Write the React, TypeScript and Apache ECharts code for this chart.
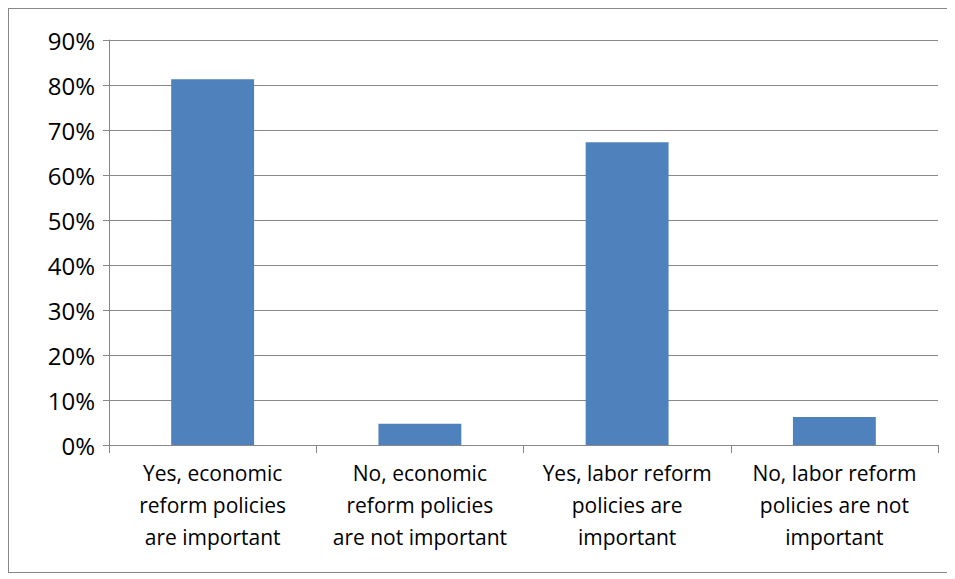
import React, { useEffect, useRef } from 'react';
import * as echarts from 'echarts';

const categories = [
  'Yes, economic\nreform policies\nare important',
  'No, economic\nreform policies\nare not important',
  'Yes, labor reform\npolicies are\nimportant',
  'No, labor reform\npolicies are not\nimportant',
];
const values = [81.3, 4.7, 67.3, 6.2];

export default function App() {
  const ref = useRef<HTMLDivElement>(null);

  useEffect(() => {
    if (!ref.current) return;
    const chart = echarts.init(ref.current, null, { renderer: 'svg' });
    chart.setOption({
      animation: false,
      textStyle: { fontFamily: '"Open Sans", sans-serif' },
      grid: { left: 100, right: 10, top: 31, bottom: 127 },
      xAxis: {
        type: 'category',
        data: categories,
        axisLine: { lineStyle: { color: '#878787' } },
        axisTick: { show: true, length: 8, lineStyle: { color: '#878787' } },
        axisLabel: { color: '#000', fontSize: 21, lineHeight: 32, margin: 12, interval: 0 },
      },
      yAxis: {
        type: 'value',
        min: 0,
        max: 90,
        interval: 10,
        axisLine: { show: true, lineStyle: { color: '#878787' } },
        axisTick: { show: true, length: 6, lineStyle: { color: '#878787' } },
        axisLabel: { color: '#000', fontSize: 24, margin: 14, formatter: '{value}%' },
        splitLine: { lineStyle: { color: '#878787' } },
      },
      series: [
        {
          type: 'bar',
          data: values,
          barWidth: '40%',
          itemStyle: { color: '#4f81bd' },
        },
      ],
    });
    return () => chart.dispose();
  }, []);

  return (
    <div style={{ width: 939, height: 563, border: '1px solid #878787', background: '#fff' }}>
      <div ref={ref} style={{ width: 939, height: 563 }} />
    </div>
  );
}
